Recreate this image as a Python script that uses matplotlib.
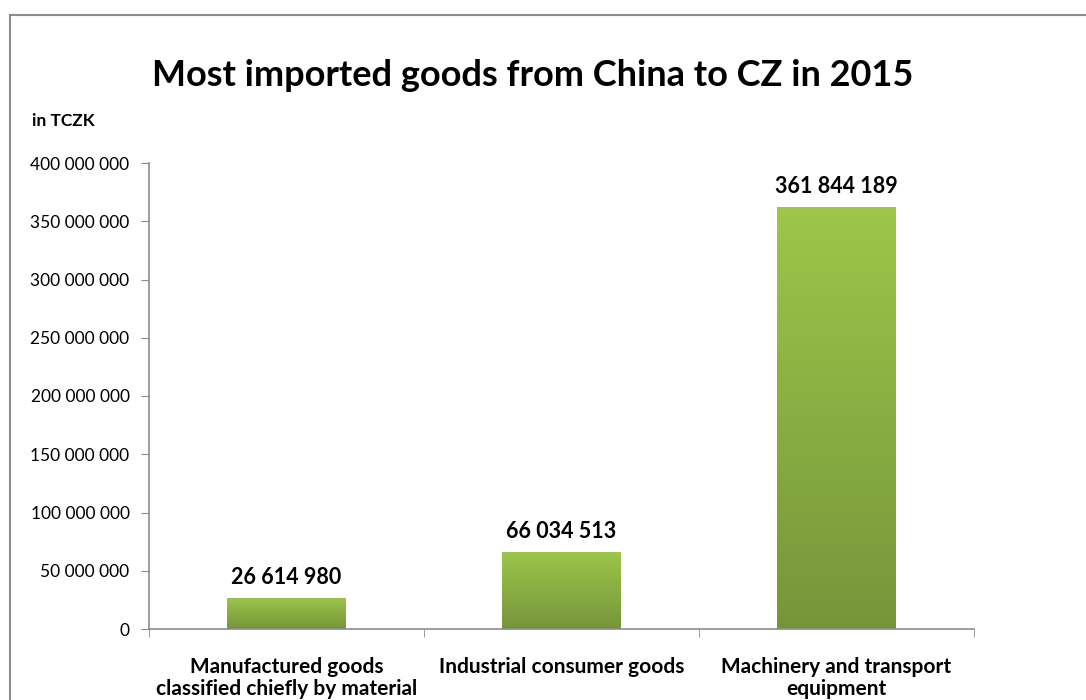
import numpy as np
import matplotlib.pyplot as plt
from matplotlib.colors import LinearSegmentedColormap
from matplotlib.patches import Rectangle

plt.rcParams['font.family'] = ['Lato', 'DejaVu Sans']

# ---------------------------
# DATA
# ---------------------------

categories = [
    'Manufactured goods\nclassified chiefly by material',
    'Industrial consumer goods',
    'Machinery and transport\nequipment',
]
values = [26614980, 66034513, 361844189]
yticks = [0, 50000000, 100000000, 150000000, 200000000,
          250000000, 300000000, 350000000, 400000000]


def spaced(n):
    return f"{n:,}".replace(',', ' ')


# ---------------------------
# FIGURE
# ---------------------------

fig = plt.figure(figsize=(10.86, 7.0), dpi=100)
W, H = 1086, 700

# outer frame (top and left edges only visible)
frame = Rectangle((10 / W, -0.05), 1.2, (H - 15) / H + 0.05,
                  transform=fig.transFigure, fill=False,
                  edgecolor='#8c8c8c', linewidth=1.5)
fig.patches.append(frame)

ax = fig.add_axes([149 / W, (H - 629) / H, (974 - 149) / W, (629 - 163) / H])

x = np.arange(len(values))
bar_w = 0.43

cmap = LinearSegmentedColormap.from_list('grn', ['#76953a', '#9dc64a'])
grad = np.linspace(0, 1, 256).reshape(-1, 1)

for xi, v in zip(x, values):
    bar = ax.bar(xi, v, width=bar_w, color='none', edgecolor='none')[0]
    im = ax.imshow(grad, extent=[xi - bar_w / 2, xi + bar_w / 2, 0, v],
                   origin='lower', cmap=cmap, aspect='auto', zorder=2)
    im.set_clip_path(bar)
    ax.text(xi, v + 9000000, spaced(v), ha='center', va='bottom',
            fontsize=15.5, fontweight='bold', color='black')

ax.set_xlim(-0.5, len(values) - 0.5)
ax.set_ylim(0, 400000000)

ax.set_yticks(yticks)
ax.set_yticklabels([spaced(t) for t in yticks], fontsize=12.5)
ax.set_xticks(x)
ax.set_xticklabels(categories, fontsize=15, fontweight='bold', linespacing=1.15)
ax.tick_params(axis='x', length=0, pad=20)
ax.tick_params(axis='y', length=6, color='#8c8c8c', pad=8)

# category boundary ticks on the x axis
ax.set_xticks(np.arange(len(values) + 1) - 0.5, minor=True)
ax.tick_params(axis='x', which='minor', length=6, color='#8c8c8c')

for s in ['top', 'right']:
    ax.spines[s].set_visible(False)
for s in ['left', 'bottom']:
    ax.spines[s].set_color('#8c8c8c')
    ax.spines[s].set_linewidth(1.2)

fig.text(533 / W, (H - 75) / H, 'Most imported goods from China to CZ in 2015',
         ha='center', va='center', fontsize=26, fontweight='bold')
fig.text(32 / W, (H - 121) / H, 'in TCZK', ha='left', va='center',
         fontsize=12.5, fontweight='bold')

fig.savefig('out.png', dpi=100)
